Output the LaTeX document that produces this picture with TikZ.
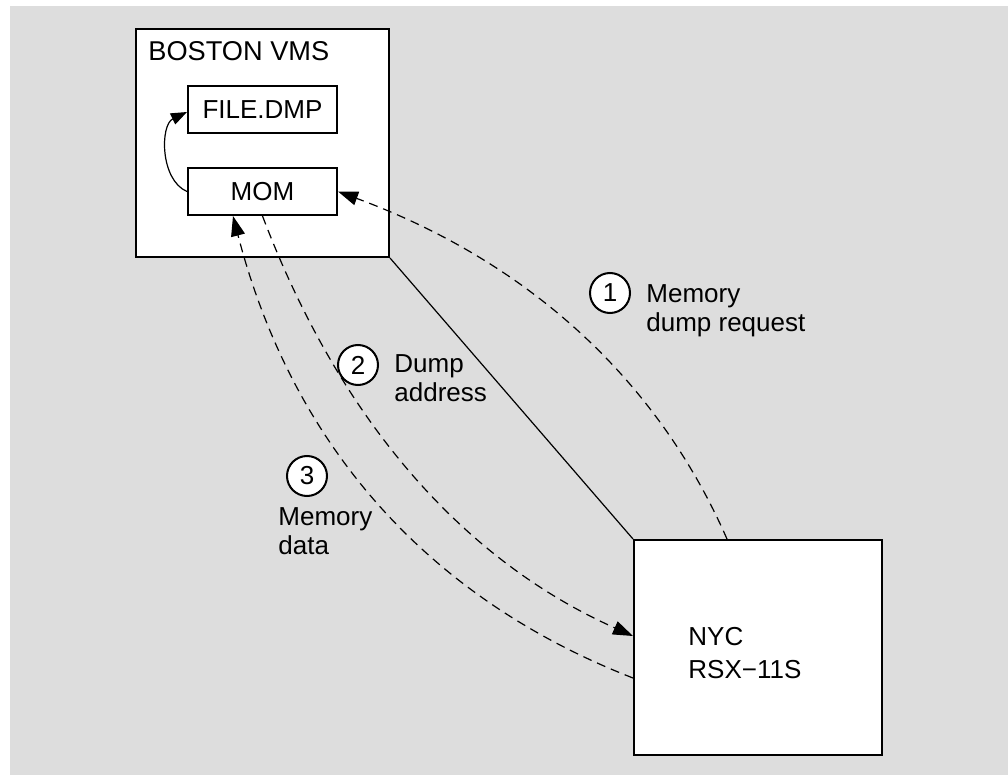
\documentclass[tikz,border=0pt]{standalone}
\usepackage{fontspec}
\setmainfont{Liberation Sans}
\usetikzlibrary{arrows.meta,calc}
\definecolor{bg}{RGB}{221,221,221}
\begin{document}
\begin{tikzpicture}[x=0.5pt,y=-0.5pt,
  box/.style={draw,line width=1pt,fill=white,inner sep=0pt},
  lbl/.style={font=\fontsize{13}{14.5}\selectfont,inner sep=0pt},
  num/.style={circle,draw,line width=1pt,fill=white,minimum size=20pt,inner sep=0pt,font=\fontsize{13}{14.5}\selectfont},
  dsh/.style={line width=0.6pt,dash pattern=on 4.5pt off 3pt},
  tip/.style={-{Triangle[length=10pt,width=7pt]}}
]
\useasboundingbox (0,0) rectangle (1008,775);
\fill[bg] (10,6) rectangle (1008,775);
% boxes
\node[box,minimum width=126.5pt,minimum height=114pt] (boston) at (262.5,143) {};
\node[lbl,anchor=base west,font=\fontsize{13.6}{14.5}\selectfont] (bostonlbl) at (148,61) {BOSTON VMS};
\node[box,lbl,minimum width=74.5pt,minimum height=23.5pt] (file) at (262.5,109.5) {FILE.DMP};
\node[box,lbl,minimum width=74.5pt,minimum height=23.5pt] (mom) at (262.5,191.5) {MOM};
\node[box,minimum width=124pt,minimum height=107.5pt] (nyc) at (758,647.5) {};
\node[lbl,anchor=base west,align=left,font=\fontsize{13}{16.5}\selectfont] (nyclbl) at (688,678) {NYC\\RSX−11S};
% connectors
\draw[line width=0.6pt] (boston.south east) -- (nyc.north west);
\draw[line width=0.6pt,-{Triangle[length=8pt,width=6pt]}] (mom.west) .. controls (160,180) and (160,125) .. ($(file.west)+(0,2.5)$);
\draw[dsh,tip] ($(nyc.north west)+(94,0)$) .. controls (656,377) and (526,261) .. (mom.east);
\draw[dsh,tip] (mom.south) .. controls (341,423) and (465,561) .. ($(nyc.west)+(0,-11.5)$);
\draw[dsh,tip] ($(nyc.west)+(0,30.5)$) .. controls (425,597) and (292,443) .. ($(mom.south)+(-29.5,0)$);
% step labels
\node[num] (c1) at (610,293) {1};
\node[lbl,anchor=base west,align=left] (l1) at (646,332) {Memory\\dump request};
\node[num] (c2) at (358,365) {2};
\node[lbl,anchor=base west,align=left] (l2) at (394,402) {Dump\\address};
\node[num] (c3) at (307,476) {3};
\node[lbl,anchor=base west,align=left] (l3) at (278,554) {Memory\\data};
\end{tikzpicture}
\end{document}
